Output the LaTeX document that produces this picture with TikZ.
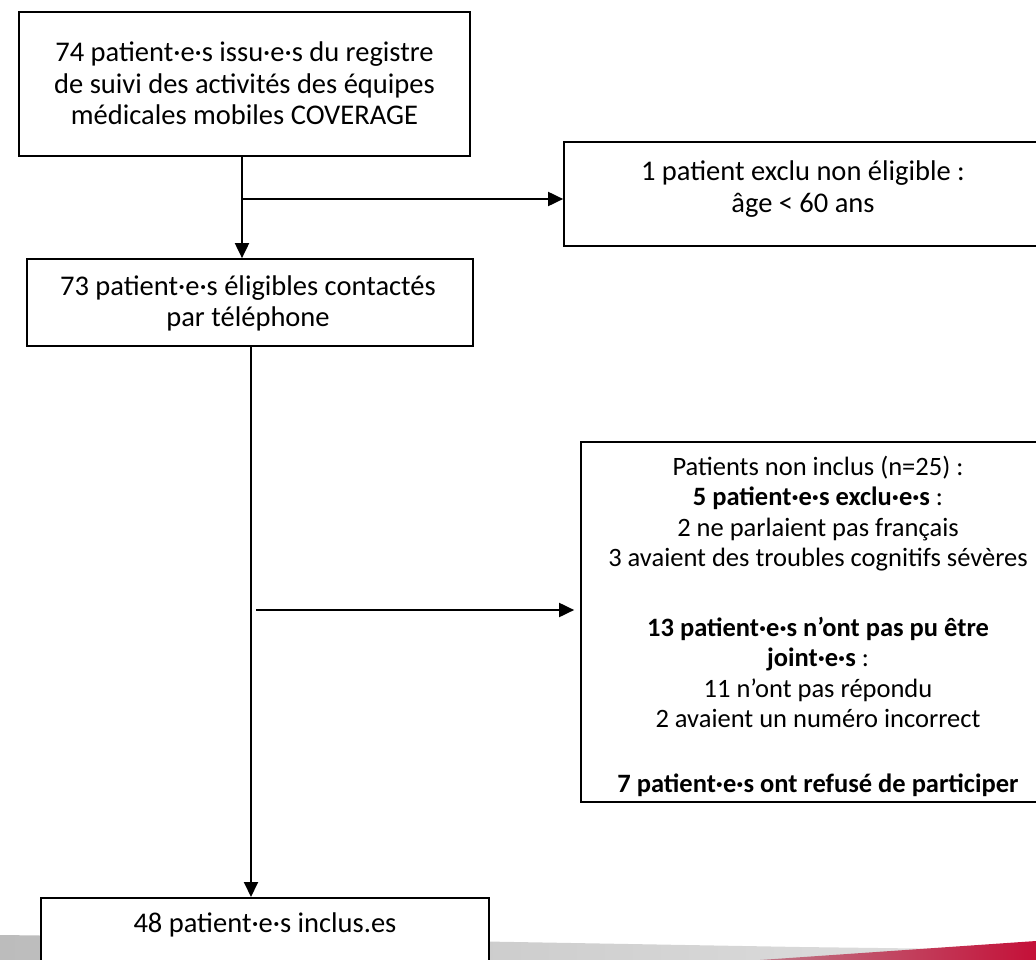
\documentclass[tikz,border=0pt]{standalone}
\usepackage{fontspec}
\setmainfont{Carlito}
\usetikzlibrary{arrows.meta}
\definecolor{stripegray}{RGB}{188,188,188}
\definecolor{stripered}{RGB}{196,16,56}
\begin{document}
\setlength{\lineskiplimit}{-100pt}%
\begin{tikzpicture}[x=1pt,y=-1pt,
  boxst/.style={draw=black, line width=1.7pt, fill=white, inner sep=0pt},
  txt/.style={font=\fontsize{28.5}{31.5}\selectfont, align=center, inner sep=0pt},
  txtsmall/.style={font=\fontsize{26.5}{30.5}\selectfont, align=center, inner sep=0pt},
  arr/.style={line width=1.9pt, -{Triangle[length=15pt,width=14pt]}}]
\useasboundingbox (0,0) rectangle (1036,960);
% bottom decorative stripe
\shade[left color=stripegray, right color=stripegray!45] (0,935) -- (400,940) -- (800,947) -- (1036,950) -- (1036,960) -- (0,960) -- cycle;
\shade[left color=stripegray!60!stripered, right color=stripered] (760,960) -- (1036,941) -- (1036,960) -- cycle;
% boxes
\node (b1) [boxst, minimum width=451pt, minimum height=144pt] at (244.5,84) {};
\node (t1) [txt] at (244.5,83.5) {74 patient·e·s issu·e·s du registre\\de suivi des activités des équipes\\médicales mobiles COVERAGE};
\node (r1) [boxst, minimum width=478pt, minimum height=104pt] at (803,194) {};
\node (tr1) [txt, font=\fontsize{28.5}{32}\selectfont] at (803,189) {1 patient exclu non éligible :\\âge < 60 ans};
\node (b2) [boxst, minimum width=446pt, minimum height=87pt] at (250,302.5) {};
\node (t2) [txt] at (248,303.5) {73 patient·e·s éligibles contactés\\par téléphone};
\node (r2) [boxst, minimum width=474pt, minimum height=360pt] at (818,622) {};
\node (tr2) [txtsmall] at (818,626.5) {Patients non inclus (n=25) :\\
\textbf{5 patient·e·s exclu·e·s} :\\
2 ne parlaient pas français\\
3 avaient des troubles cognitifs sévères\\[39pt]
\textbf{13 patient·e·s n’ont pas pu être}\\
\textbf{joint·e·s} :\\
11 n’ont pas répondu\\
2 avaient un numéro incorrect\\[34.5pt]
\textbf{7 patient·e·s ont refusé de participer}};
\node (b4) [boxst, minimum width=448pt, minimum height=120pt, anchor=north] at (265,897) {};
\node (t4) [txt] at (265,925) {48 patient·e·s inclus.es};
% connectors
\coordinate (j1) at (242,199);
\coordinate (j2) at (256,610);
\draw[arr] ([xshift=-2.5pt]b1.south) -- ([xshift=-2.5pt]b1.south |- b2.north);
\draw[arr] (j1) -- (j1 -| r1.west);
\draw[arr] ([xshift=1pt]b2.south) -- ([xshift=1pt]b2.south |- b4.north);
\draw[arr] (j2) -- ([xshift=-6pt]j2 -| r2.west);
\end{tikzpicture}
\end{document}
